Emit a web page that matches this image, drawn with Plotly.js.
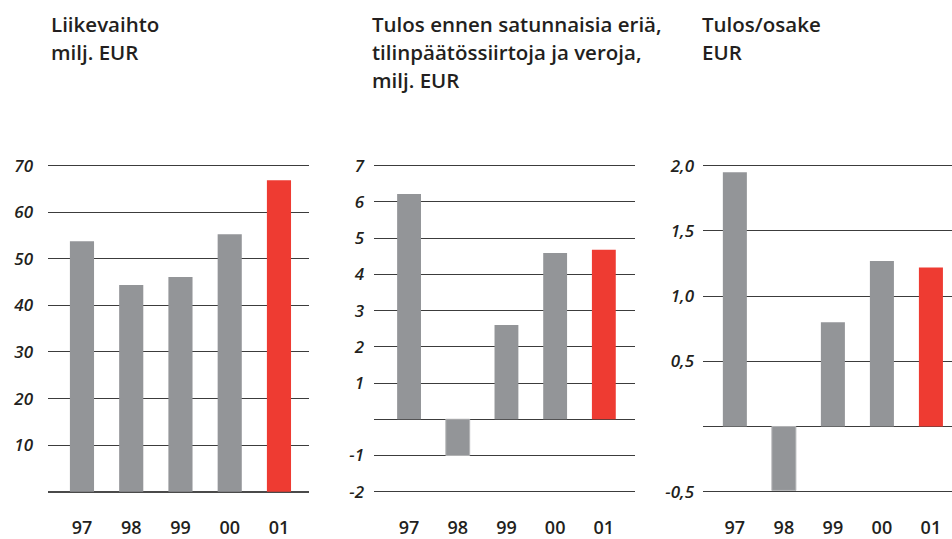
<!DOCTYPE html>
<html>
<head>
<meta charset="utf-8">
<script src="https://cdn.plot.ly/plotly-3.0.1.min.js"></script>
<style>html,body{margin:0;padding:0;background:#fff;}#chart{width:952px;height:539px;}</style>
</head>
<body>
<div id="chart"></div>
<script>
// ---- data ----
const years = ['97', '98', '99', '00', '01'];
const liikevaihto = [53.8, 44.4, 46.1, 55.3, 66.9];
const tulosEnnen = [6.22, -1.0, 2.6, 4.59, 4.68];
const tulosOsake = [1.95, -0.49, 0.80, 1.27, 1.22];

const ticks1 = [10, 20, 30, 40, 50, 60, 70];
const tickText1 = ['10', '20', '30', '40', '50', '60', '70'];
const ticks2 = [-2, -1, 1, 2, 3, 4, 5, 6, 7];
const tickText2 = ['-2', '-1', '1', '2', '3', '4', '5', '6', '7'];
const ticks3 = [-0.5, 0.5, 1.0, 1.5, 2.0];
const tickText3 = ['-0,5', '0,5', '1,0', '1,5', '2,0'];

const title1 = ['Liikevaihto', 'milj. EUR'];
const title2 = ['Tulos ennen satunnaisia eriä,', 'tilinpäätössiirtoja ja veroja,', 'milj. EUR'];
const title3 = ['Tulos/osake', 'EUR'];

// ---- styling ----
const W = 952, H = 539;
const GRAY = '#939598', RED = '#ee3b32', TXT = '#231f20', EDGE = '#b4b5b7';
const colors = years.map((y, i) => i === years.length - 1 ? RED : GRAY);
const FONT = 'Open Sans, Liberation Sans, Arial, sans-serif';
const px = v => v / W;
// plot area extended 2px above/below the outer gridlines so they are not clipped
const TOP = 163.7, BOT = 493.7;
const yDom = [(H - BOT) / H, (H - TOP) / H];
function pad(lo, hi) { const d = (hi - lo) / 326 * 2; return [lo - d, hi + d]; }

function bar(xa, ya, vals) {
  return {
    type: 'bar', x: years, y: vals, xaxis: xa, yaxis: ya,
    width: 0.49,
    marker: {
      color: colors,
      line: {color: vals.map(v => v < 0 ? EDGE : GRAY), width: vals.map(v => v < 0 ? 1 : 0)}
    },
    hoverinfo: 'x+y'
  };
}

const xBase = {
  type: 'category', showgrid: false, zeroline: false, showline: false,
  ticks: '', tickfont: {family: FONT, size: 18, color: TXT, weight: 600},
  ticklabelstandoff: 21, fixedrange: true
};
const yBase = {
  showgrid: true, gridcolor: '#3c3c3c', gridwidth: 1,
  zeroline: true, zerolinecolor: '#3c3c3c', zerolinewidth: 1.5,
  showline: false, ticks: '', tickmode: 'array',
  tickfont: {family: FONT, size: 17, color: TXT, style: 'italic', weight: 600},
  fixedrange: true
};

const layout = {
  width: W, height: H,
  margin: {l: 0, r: 0, t: 0, b: 0},
  paper_bgcolor: '#fff', plot_bgcolor: '#fff',
  showlegend: false,
  bargap: 0,
  xaxis:  Object.assign({}, xBase, {domain: [px(48), px(309)], range: [-0.69, 4.61], anchor: 'y'}),
  xaxis2: Object.assign({}, xBase, {domain: [px(374), px(635)], range: [-0.72, 4.64], anchor: 'y2'}),
  xaxis3: Object.assign({}, xBase, {domain: [px(703), 1], range: [-0.65, 4.43], anchor: 'y3'}),
  yaxis:  Object.assign({}, yBase, {domain: yDom, range: pad(0, 70), tickvals: ticks1, ticktext: tickText1,
            anchor: 'x', zerolinewidth: 2, zerolinecolor: '#4a4a4a', ticklabelstandoff: 14}),
  yaxis2: Object.assign({}, yBase, {domain: yDom, range: pad(-2, 7), tickvals: ticks2, ticktext: tickText2,
            anchor: 'x2', ticklabelstandoff: 9}),
  yaxis3: Object.assign({}, yBase, {domain: yDom, range: pad(-0.5, 2.0), tickvals: ticks3, ticktext: tickText3,
            anchor: 'x3', ticklabelstandoff: 8}),
  annotations: []
};

function addTitle(lines, xPix) {
  lines.forEach((t, i) => {
    layout.annotations.push({
      text: t, xref: 'paper', yref: 'paper',
      x: px(xPix), y: 1 - (23.7 + 28.3 * i) / H,
      xanchor: 'left', yanchor: 'middle', showarrow: false,
      font: {family: FONT, size: 20.5, color: TXT, weight: 600}
    });
  });
}
addTitle(title1, 49);
addTitle(title2, 370);
addTitle(title3, 700);

const data = [
  bar('x', 'y', liikevaihto),
  bar('x2', 'y2', tulosEnnen),
  bar('x3', 'y3', tulosOsake)
];

Plotly.newPlot('chart', data, layout, {displayModeBar: false, staticPlot: true});
</script>
</body>
</html>
